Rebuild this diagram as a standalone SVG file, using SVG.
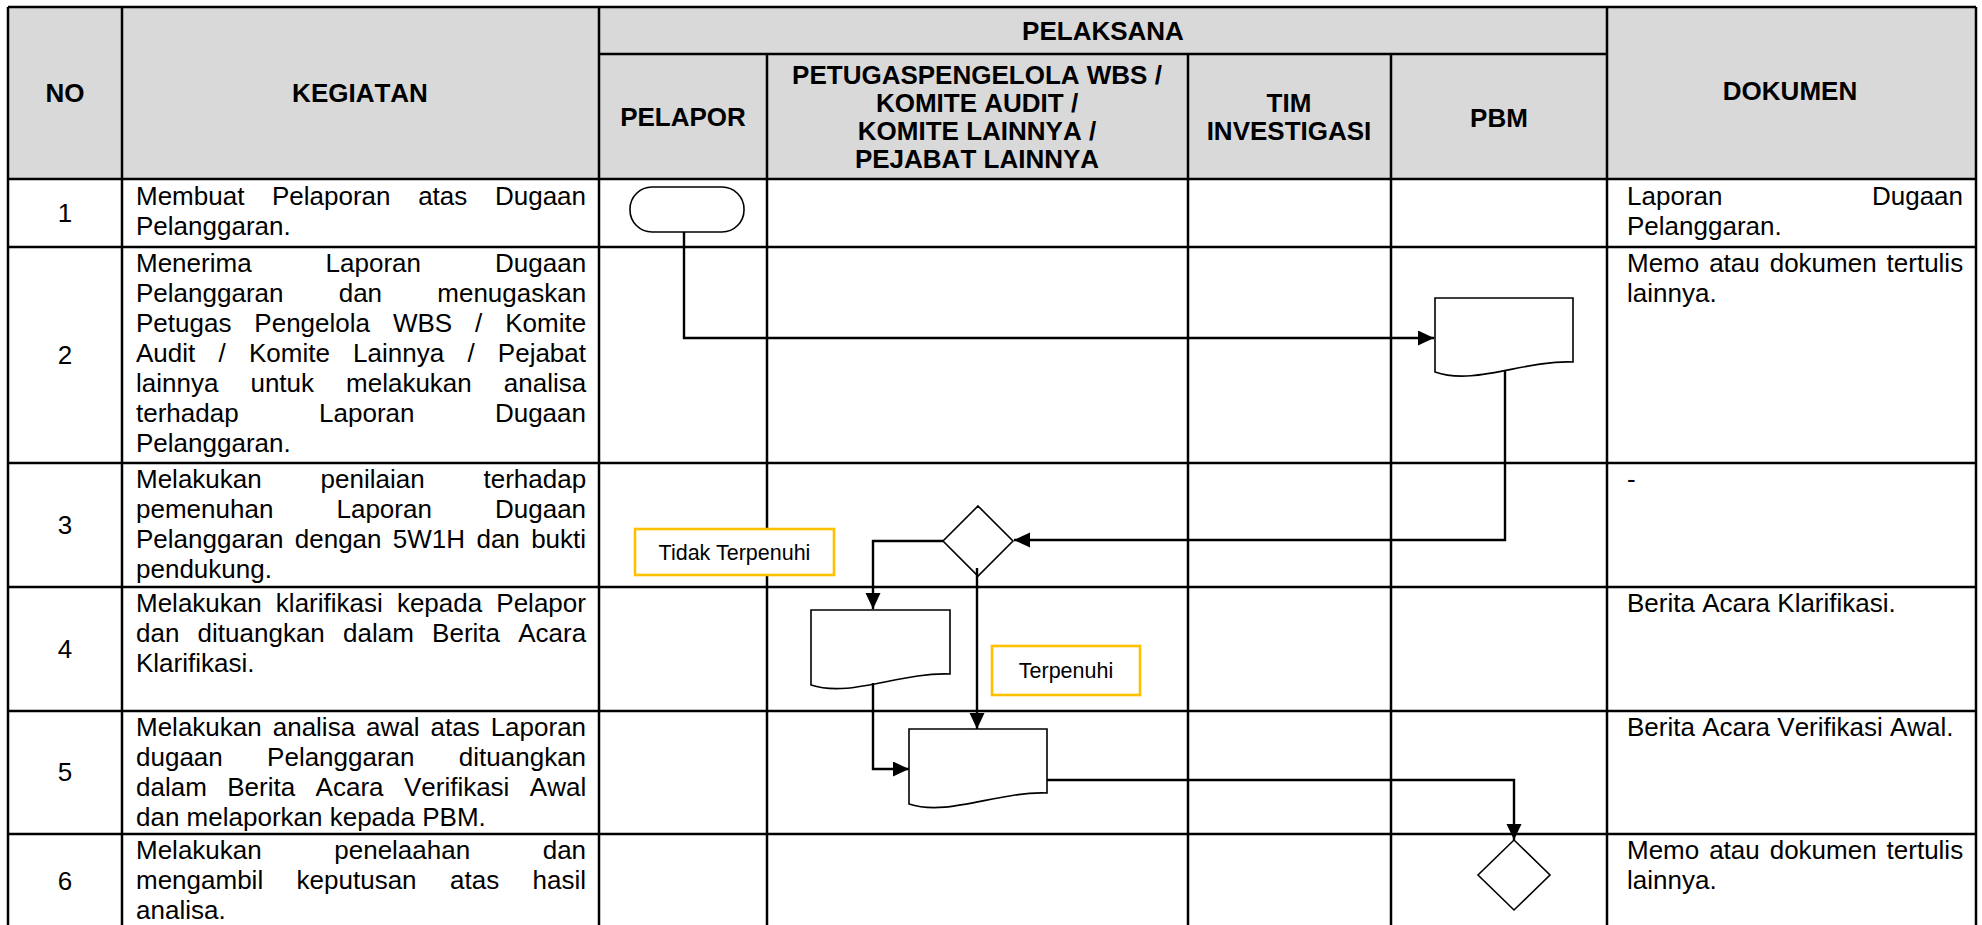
<svg xmlns="http://www.w3.org/2000/svg" width="1982" height="925" viewBox="0 0 1982 925">
<style>
.t{font-family:"Liberation Sans",Arial,sans-serif;font-size:26px;fill:#000;font-kerning:none}
.h{font-weight:bold;text-anchor:middle}
.c{text-anchor:middle}
.lbl{font-family:"Liberation Sans",Arial,sans-serif;font-size:21.5px;fill:#000;text-anchor:middle}
.grid{stroke:#000;stroke-width:2.5;fill:none}
.shape{fill:#fff;stroke:#000;stroke-width:1.6}
.note{fill:#fff;stroke:#FFC000;stroke-width:2.6}
.conn{fill:none;stroke:#000;stroke-width:2.4;marker-end:url(#arr)}
</style>
<defs>
<marker id="arr" markerUnits="userSpaceOnUse" markerWidth="17" markerHeight="16" refX="16" refY="7.5" orient="auto">
<path d="M0,0 L16,7.5 L0,15 z" fill="#000"/>
</marker>
</defs>
<rect x="0" y="0" width="1982" height="925" fill="#fff"/>
<g id="table">
<rect x="8" y="7" width="1968" height="172" fill="#D9D9D9"/>
<path class="grid" d="M8,7 H1976 M599,54 H1607 M8,179 H1976 M8,247 H1976 M8,463 H1976 M8,587 H1976 M8,711 H1976 M8,834 H1976 M8,7 V925 M122,7 V925 M599,7 V925 M1607,7 V925 M1976,7 V925 M767,54 V925 M1188,54 V925 M1391,54 V925"/>
</g>
<g id="headers" class="t h">
<text x="65" y="102">NO</text>
<text x="360" y="102">KEGIATAN</text>
<text x="1103" y="40">PELAKSANA</text>
<text x="683" y="126">PELAPOR</text>
<text x="977" y="84">PETUGASPENGELOLA WBS /</text>
<text x="977" y="112">KOMITE AUDIT /</text>
<text x="977" y="140">KOMITE LAINNYA /</text>
<text x="977" y="168">PEJABAT LAINNYA</text>
<text x="1289" y="112">TIM</text>
<text x="1289" y="140">INVESTIGASI</text>
<text x="1499" y="127">PBM</text>
<text x="1790" y="100">DOKUMEN</text>
</g>
<g id="numbers" class="t c">
<text x="65" y="222">1</text>
<text x="65" y="364">2</text>
<text x="65" y="534">3</text>
<text x="65" y="658">4</text>
<text x="65" y="781">5</text>
<text x="65" y="890">6</text>
</g>
<g id="kegiatan" class="t">
<text x="136" y="205" style="word-spacing:20.4px">Membuat Pelaporan atas Dugaan</text>
<text x="136" y="235">Pelanggaran.</text>
<text x="136" y="272" style="word-spacing:66.8px">Menerima Laporan Dugaan</text>
<text x="136" y="302" style="word-spacing:48px">Pelanggaran dan menugaskan</text>
<text x="136" y="332" style="word-spacing:15.7px">Petugas Pengelola WBS / Komite</text>
<text x="136" y="362" style="word-spacing:16px">Audit / Komite Lainnya / Pejabat</text>
<text x="136" y="392" style="word-spacing:24.8px">lainnya untuk melakukan analisa</text>
<text x="136" y="422" style="word-spacing:73.2px">terhadap Laporan Dugaan</text>
<text x="136" y="452">Pelanggaran.</text>
<text x="136" y="488" style="word-spacing:51.6px">Melakukan penilaian terhadap</text>
<text x="136" y="518" style="word-spacing:55.9px">pemenuhan Laporan Dugaan</text>
<text x="136" y="548" style="word-spacing:4.1px">Pelanggaran dengan 5W1H dan bukti</text>
<text x="136" y="578">pendukung.</text>
<text x="136" y="612" style="word-spacing:6.9px">Melakukan klarifikasi kepada Pelapor</text>
<text x="136" y="642" style="word-spacing:11px">dan dituangkan dalam Berita Acara</text>
<text x="136" y="672">Klarifikasi.</text>
<text x="136" y="736" style="word-spacing:3.75px">Melakukan analisa awal atas Laporan</text>
<text x="136" y="766" style="word-spacing:37.1px">dugaan Pelanggaran dituangkan</text>
<text x="136" y="796" style="word-spacing:13.2px">dalam Berita Acara Verifikasi Awal</text>
<text x="136" y="826">dan melaporkan kepada PBM.</text>
<text x="136" y="859" style="word-spacing:65.3px">Melakukan penelaahan dan</text>
<text x="136" y="889" style="word-spacing:26.2px">mengambil keputusan atas hasil</text>
<text x="136" y="919">analisa.</text>
</g>
<g id="dokumen" class="t">
<text x="1627" y="205" style="word-spacing:142.3px">Laporan Dugaan</text>
<text x="1627" y="235">Pelanggaran.</text>
<text x="1627" y="272" style="word-spacing:2.7px">Memo atau dokumen tertulis</text>
<text x="1627" y="302">lainnya.</text>
<text x="1627" y="488">-</text>
<text x="1627" y="612">Berita Acara Klarifikasi.</text>
<text x="1627" y="736">Berita Acara Verifikasi Awal.</text>
<text x="1627" y="859" style="word-spacing:2.7px">Memo atau dokumen tertulis</text>
<text x="1627" y="889">lainnya.</text>
</g>
<g id="n1-start"><rect class="shape" x="630" y="187" width="114" height="45" rx="22" ry="22"/></g>
<g id="n2-doc-pbm"><path class="shape" d="M1435,298 H1573 V362 C1524,360 1474,386 1435,372 Z"/></g>
<g id="n3-decision"><path class="shape" d="M978,506 L1013,541 L978,576 L943,541 Z"/></g>
<g id="n4-doc-klarifikasi"><path class="shape" d="M811,610 H950 V674 C900,672 850,698 811,685 Z"/></g>
<g id="n5-doc-verifikasi"><path class="shape" d="M909,729 H1047 V793 C998,791 948,817 909,804 Z"/></g>
<g id="n6-decision-pbm"><path class="shape" d="M1514,840 L1550,875 L1514,910 L1478,875 Z"/></g>
<g id="label-tidak"><rect class="note" x="635" y="529" width="199" height="46"/><text class="lbl" x="734.5" y="560">Tidak Terpenuhi</text></g>
<g id="label-terpenuhi"><rect class="note" x="992" y="646" width="148" height="49"/><text class="lbl" x="1066" y="678">Terpenuhi</text></g>
<g id="connectors">
<path class="conn" d="M684,232 V338 H1434"/>
<path class="conn" d="M1505,371 V540 H1014"/>
<path class="conn" d="M943,541 H873 V609"/>
<path class="conn" d="M977,568 V729"/>
<path class="conn" d="M873,683 V769 H909"/>
<path class="conn" d="M1047,780 H1514 V840"/>
</g>
</svg>
